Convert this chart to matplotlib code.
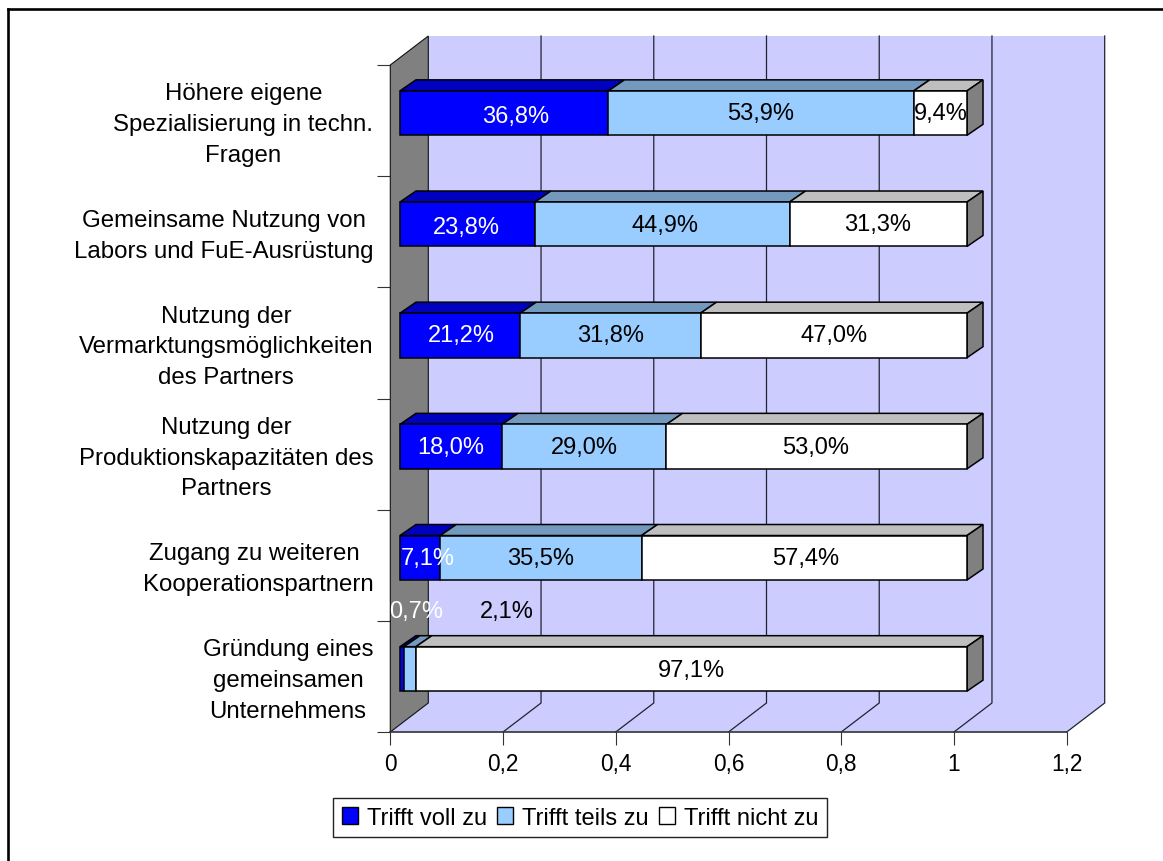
import matplotlib
matplotlib.use('Agg')
import matplotlib.pyplot as plt
from matplotlib.patches import Polygon, Patch
from matplotlib.lines import Line2D

plt.rcParams['font.family'] = ['Liberation Sans', 'DejaVu Sans']

categories = ['Höhere eigene\nSpezialisierung in techn.\nFragen',
              'Gemeinsame Nutzung von\nLabors und FuE-Ausrüstung',
              'Nutzung der\nVermarktungsmöglichkeiten\ndes Partners',
              'Nutzung der\nProduktionskapazitäten des\nPartners',
              'Zugang zu weiteren \nKooperationspartnern',
              'Gründung eines\ngemeinsamen\nUnternehmens']
voll = [36.8, 23.8, 21.2, 18.0, 7.1, 0.7]
teils = [53.9, 44.9, 31.8, 29.0, 35.5, 2.1]
nicht = [9.4, 31.3, 47.0, 53.0, 57.4, 97.1]
series_names = ['Trifft voll zu', 'Trifft teils zu', 'Trifft nicht zu']
x_ticks = [0, 0.2, 0.4, 0.6, 0.8, 1, 1.2]
x_tick_labels = ['0', '0,2', '0,4', '0,6', '0,8', '1', '1,2']

# label nudges in pixels, the labels do not sit exactly in the middle of the segments
nudge_x = [[11, 0, 0], [-1, 3, -1], [1, 0, 0], [0, 0, -1], [8, 0, 1], [0, 0, 0]]
nudge_y = [[3, 0, 0], [3, 1, 0], [0, 0, 0], [0, 0, 0], [0, 0, 0], [0, 0, 1.5]]

W, H = 1163, 862
fig = plt.figure(figsize=(W / 100, H / 100), dpi=100)
x0, x1 = 390.3, 1066.7
y_bot, y_top = 733, 66
ax = fig.add_axes([x0 / W, 1 - y_bot / H, (x1 - x0) / W, (y_bot - y_top) / H])
ax.set_xlim(0, 1.2)
ax.set_ylim(0, 6)
ux = 1.2 / (x1 - x0)   # data units per pixel
uy = 6 / (y_bot - y_top)

FS = 17
wall_dx, wall_dy = 38 * ux, 29 * uy
bar_dx, bar_dy = 16 * ux, 11 * uy
shift_x, shift_y = 9.7 * ux, 7.5 * uy
bar_scale = 567 * ux
bar_h = 0.4

wall = '#CCCCFF'
grey = '#808080'
dark = '#333333'

# floor and back wall
ax.add_patch(Polygon([(0, 0), (1.2, 0), (1.2 + wall_dx, wall_dy), (wall_dx, wall_dy)],
                     fc=wall, ec='none', clip_on=False, zorder=1))
ax.add_patch(Polygon([(wall_dx, wall_dy), (1.2 + wall_dx, wall_dy), (1.2 + wall_dx, 6 + wall_dy), (wall_dx, 6 + wall_dy)],
                     fc=wall, ec='none', clip_on=False, zorder=1))
# grid lines on floor and wall
for t in x_ticks[1:]:
    ax.plot([t, t + wall_dx, t + wall_dx], [0, wall_dy, 6 + wall_dy], color='#222233', lw=0.9,
            clip_on=False, zorder=2)
# grey side wall
ax.add_patch(Polygon([(0, 0), (wall_dx, wall_dy), (wall_dx, 6 + wall_dy), (0, 6)],
                     fc=grey, ec='#111111', lw=0.8, clip_on=False, zorder=3))

colors = ['#0000FF', '#99CCFF', '#FFFFFF']
tops = ['#0000BF', '#7399BF', '#BFBFBF']
text_colors = ['white', 'black', 'black']
LW = 1.1

for i in range(len(categories)):
    cy = 5.5 - i
    b = cy - bar_h / 2 + shift_y
    t = b + bar_h
    left = 0
    vals = [voll[i], teils[i], nicht[i]]
    total = sum(vals)
    for j in range(3):
        v = vals[j] / total
        a = shift_x + left * bar_scale
        c = shift_x + (left + v) * bar_scale
        ax.add_patch(Polygon([(a, t), (c, t), (c + bar_dx, t + bar_dy), (a + bar_dx, t + bar_dy)],
                             fc=tops[j], ec='black', lw=LW, clip_on=False, zorder=4))
        ax.add_patch(Polygon([(a, b), (c, b), (c, t), (a, t)],
                             fc=colors[j], ec='black', lw=LW, clip_on=False, zorder=5))
        if j == 2:
            ax.add_patch(Polygon([(c, b), (c + bar_dx, b + bar_dy), (c + bar_dx, t + bar_dy), (c, t)],
                                 fc=grey, ec='black', lw=LW, clip_on=False, zorder=4))
        lx = (a + c) / 2 + nudge_x[i][j] * ux
        ly = (b + t) / 2 - nudge_y[i][j] * uy
        if i == 5 and j < 2:
            # the two small labels were dragged above the last bar
            lx = shift_x + [16, 107][j] * ux
            ly = ly + 58 * uy
        ax.text(lx, ly, str(vals[j]).replace('.', ',') + '%', ha='center', va='center',
                color=text_colors[j], fontsize=FS, zorder=8, clip_on=False)
        left += v

for s in ax.spines.values():
    s.set_visible(False)
ax.set_xticks(x_ticks)
ax.set_xticklabels(x_tick_labels, fontsize=16.3)
ax.set_yticks(range(7))
ax.set_yticklabels([])
ax.tick_params(axis='both', length=9.5, width=0.8, color=dark, pad=5)
ax.plot([0, 1.2], [0, 0], color=dark, lw=1.2, clip_on=False, zorder=3)

for i, name in enumerate(categories):
    ax.text(-17 * ux, 5.5 - i - 3.5 * uy, name, ha='right', va='center', multialignment='center',
            fontsize=17.3, linespacing=1.52, clip_on=False)

handles = [Patch(fc=colors[j], ec='black', lw=1.0, label=series_names[j]) for j in range(3)]
leg = fig.legend(handles=handles, ncol=3, loc='center', bbox_to_anchor=(580 / W, 1 - 818.8 / H),
                 fontsize=17, frameon=True, fancybox=False, edgecolor='#222222', framealpha=1,
                 handlelength=0.68, handleheight=0.68, handletextpad=0.38, columnspacing=0.43,
                 borderpad=0.36, borderaxespad=0)
leg.get_frame().set_linewidth(1.0)

# outer chart border, only top and left are on the screenshot
fig.add_artist(Line2D([7.5 / W, 7.5 / W], [0, 1 - 10 / H], color='black', lw=1.9))
fig.add_artist(Line2D([7.5 / W, 1163 / W], [1 - 10 / H, 1 - 10 / H], color='black', lw=1.9))

fig.savefig('out.png', dpi=100)
